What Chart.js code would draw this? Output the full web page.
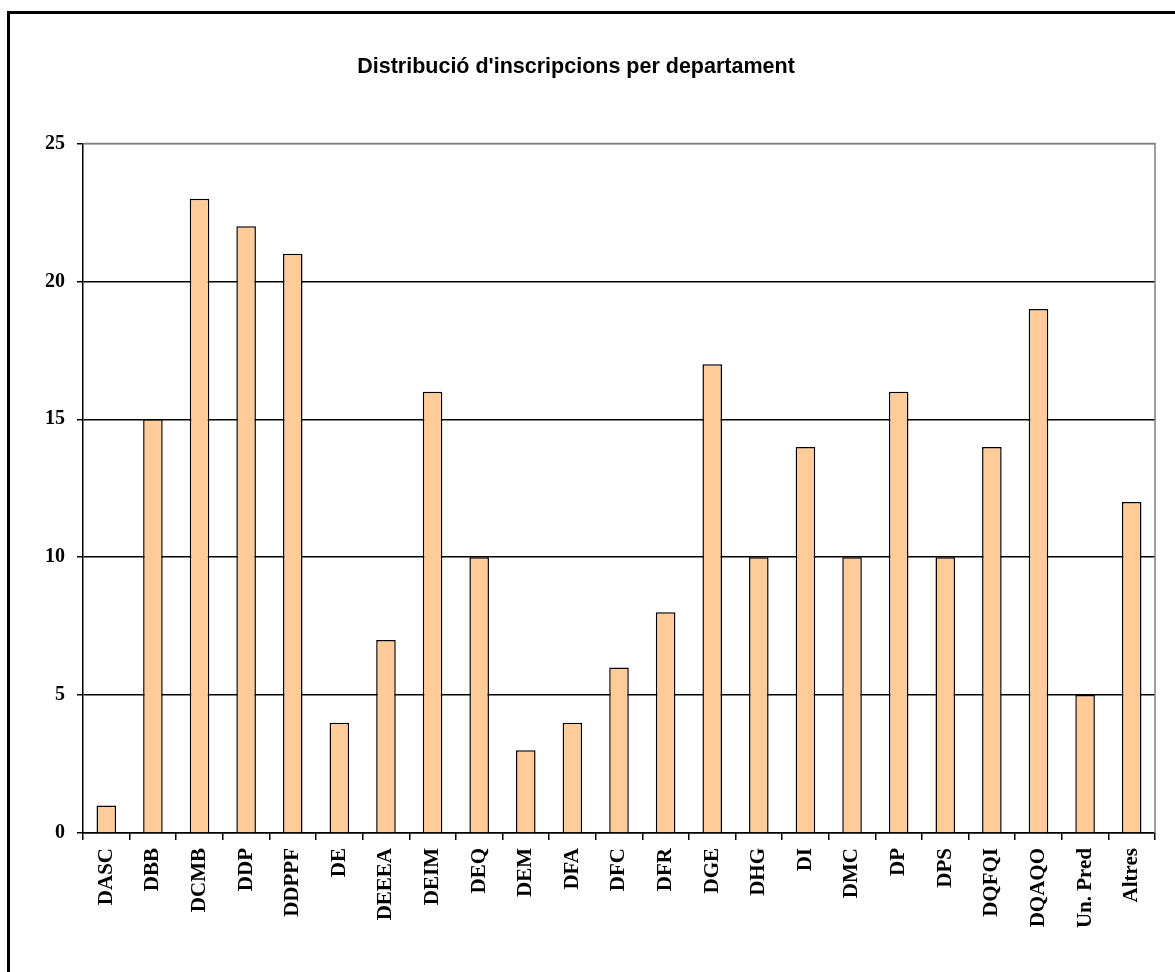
<!DOCTYPE html>
<html>
<head>
<meta charset="utf-8">
<script src="https://cdn.jsdelivr.net/npm/chart.js@4"></script>
<style>
  html, body { margin: 0; padding: 0; background: #fff; overflow: hidden; }
  #frame {
    position: absolute; left: 7px; top: 11px;
    width: 1300px; height: 1100px;
    border-left: 3px solid #000; border-top: 3px solid #000;
  }
  #chart { position: absolute; left: 0; top: 0; }
</style>
</head>
<body>
<div id="frame"></div>
<canvas id="chart" width="1175" height="972"></canvas>
<script>
const chartTitle = "Distribució d'inscripcions per departament";
const departments = ['DASC', 'DBB', 'DCMB', 'DDP', 'DDPPF', 'DE', 'DEEEA', 'DEIM', 'DEQ', 'DEM',
  'DFA', 'DFC', 'DFR', 'DGE', 'DHG', 'DI', 'DMC', 'DP', 'DPS', 'DQFQI', 'DQAQO', 'Un. Pred', 'Altres'];
const enrolments = [1, 15, 23, 22, 21, 4, 7, 16, 10, 3, 4, 6, 8, 17, 10, 14, 10, 16, 10, 14, 19, 5, 12];
const yTicks = [0, 5, 10, 15, 20, 25];

const serif = '"Liberation Serif", "Times New Roman", serif';

// title + grey plot border (top and right)
const decor = {
  id: 'decor',
  afterDraw(chart) {
    const { ctx, chartArea: a } = chart;
    ctx.save();
    ctx.strokeStyle = '#808080';
    ctx.lineWidth = 1.5;
    ctx.beginPath();
    ctx.moveTo(a.left, a.top);
    ctx.lineTo(a.right, a.top);
    ctx.lineTo(a.right, a.bottom);
    ctx.stroke();
    ctx.fillStyle = '#000';
    ctx.font = 'bold 21.5px "Liberation Sans", Arial, sans-serif';
    ctx.textAlign = 'center';
    ctx.textBaseline = 'alphabetic';
    ctx.fillText(chartTitle, 576, 73);
    ctx.restore();
  }
};

new Chart(document.getElementById('chart').getContext('2d'), {
  type: 'bar',
  data: {
    labels: departments,
    datasets: [{
      data: enrolments,
      backgroundColor: '#FFCC99',
      borderColor: '#000',
      borderWidth: 1.5,
      barPercentage: 0.42,
      categoryPercentage: 1
    }]
  },
  options: {
    responsive: false,
    animation: false,
    layout: { padding: { top: 143.5, right: 20, left: 0, bottom: 0 } },
    plugins: {
      legend: { display: false },
      title: { display: false },
      tooltip: { enabled: false }
    },
    scales: {
      x: {
        afterFit(scale) { scale.height = 139; },
        border: { color: '#000', width: 1.5 },
        grid: {
          offset: true,
          drawOnChartArea: false,
          drawTicks: true,
          tickLength: 7,
          color: '#000',
          lineWidth: 1.5
        },
        ticks: {
          color: '#000',
          minRotation: 90,
          maxRotation: 90,
          autoSkip: false,
          padding: 8,
          font: { family: serif, size: 21, weight: 'bold' }
        }
      },
      y: {
        min: 0,
        max: 25,
        afterFit(scale) { scale.width = 83; },
        afterBuildTicks(scale) { scale.ticks = yTicks.map(v => ({ value: v })); },
        border: { color: '#000', width: 1.5 },
        grid: {
          color: ctx => (ctx.tick && ctx.tick.value === 25 ? '#808080' : '#000'),
          lineWidth: 1.5,
          tickLength: 6,
          tickColor: '#000'
        },
        ticks: {
          color: '#000',
          padding: 12,
          font: { family: serif, size: 20, weight: 'bold' }
        }
      }
    }
  },
  plugins: [decor]
});
</script>
</body>
</html>
